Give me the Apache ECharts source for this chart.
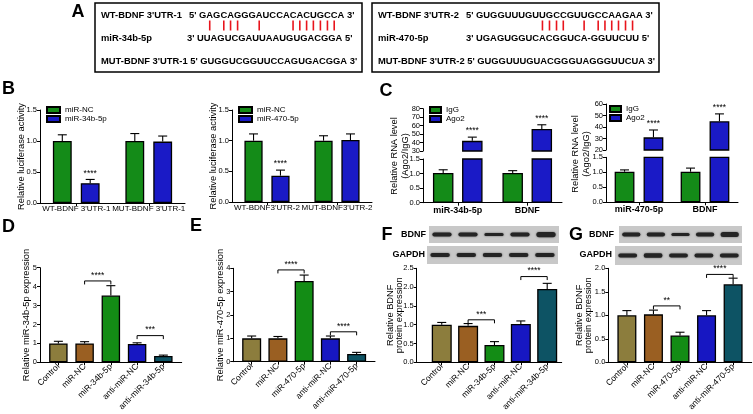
<!DOCTYPE html>
<html><head><meta charset="utf-8">
<script src="https://cdn.jsdelivr.net/npm/echarts@6/dist/echarts.min.js"></script>
<style>html,body{margin:0;padding:0;background:#fff}#c{width:753px;height:414px}</style>
</head><body><div id="c"></div>
<script>
// ================= DATA =================
// Panel A sequences
const A1_wtLabel = "WT-BDNF 3'UTR-1";
const A1_wtSeq = "5' GAGCAGGGAUCCACACUGCCA 3'";
const A1_miLabel = "miR-34b-5p";
const A1_miSeq = "3' UUAGUCGAUUAAUGUGACGGA 5'";
const A1_mut = "MUT-BDNF 3'UTR-1 5' GUGGUCGGUUCCAGUGACGGA 3'";
const A1_pairs = [1, 3, 4, 5, 8, 13, 14, 15, 16, 17, 18, 19];
const A2_wtLabel = "WT-BDNF 3'UTR-2";
const A2_wtSeq = "5' GUGGUUUGUUGCCGUUGCCAAGAA 3'";
const A2_miLabel = "miR-470-5p";
const A2_miSeq = "3' UGAGUGGUCACGGUCA-GGUUCUU 5'";
const A2_mut = "MUT-BDNF 3'UTR-2 5' GUGGUUUGUACGGGUAGGGUUCUA 3'";
const A2_pairs = [9, 10, 11, 12, 15, 17, 18, 19, 20, 21, 22];

// Panel B
const B_yTicks = [0, 0.5, 1.0, 1.5];
const B_title = "Relative luciferase activity";
const B1_cats = ["WT-BDNF 3'UTR-1", "MUT-BDNF 3'UTR-1"];
const B1_nc = [1.00, 1.00];
const B1_ncErr = [0.10, 0.12];
const B1_mir = [0.32, 0.99];
const B1_mirErr = [0.06, 0.09];
const B1_sig = ["****", ""];
const B2_cats = ["WT-BDNF3'UTR-2", "MUT-BDNF3'UTR-2"];
const B2_nc = [1.00, 1.00];
const B2_ncErr = [0.11, 0.08];
const B2_mir = [0.43, 1.01];
const B2_mirErr = [0.09, 0.10];
const B2_sig = ["****", ""];

// Panel C (broken axis)
const C_title = "Relative RNA level\n(Ago2/IgG)";
const C_lowTicks = [0, 0.5, 1.0, 1.5];
const C1_upTicks = [30, 40, 50, 60, 70, 80];
const C1_cats = ["miR-34b-5p", "BDNF"];
const C1_igg = [1.02, 1.02];
const C1_iggErr = [0.11, 0.08];
const C1_ago = [42, 56];
const C1_agoErr = [4.4, 5.0];
const C1_sig = ["****", "****"];
const C2_upTicks = [20, 30, 40, 50, 60];
const C2_cats = ["miR-470-5p", "BDNF"];
const C2_igg = [1.02, 1.02];
const C2_iggErr = [0.06, 0.12];
const C2_ago = [31, 45];
const C2_agoErr = [6.4, 6.4];
const C2_sig = ["****", "****"];

// Panels D-G
const D_title = "Relative miR-34b-5p expression";
const D_cats = ["Control", "miR-NC", "miR-34b-5p", "anti-miR-NC", "anti-miR-34b-5p"];
const D_yTicks = [0, 1, 2, 3, 4, 5];
const D_vals = [1.00, 1.00, 3.53, 0.97, 0.33];
const D_err = [0.11, 0.09, 0.52, 0.06, 0.05];
const D_brackets = [[1, 2, 4.30, "****"], [3, 4, 1.41, "***"]];

const E_title = "Relative miR-470-5p expression";
const E_cats = ["Control", "miR-NC", "miR-470-5p", "anti-miR-NC", "anti-miR-470-5p"];
const E_yTicks = [0, 1, 2, 3, 4];
const E_vals = [1.00, 1.00, 3.46, 1.00, 0.33];
const E_err = [0.10, 0.08, 0.25, 0.10, 0.07];
const E_brackets = [[1, 2, 3.93, "****"], [3, 4, 1.28, "****"]];

const FG_title = "Relative BDNF\nprotein expression";
const F_cats = ["Control", "miR-NC", "miR-34b-5p", "anti-miR-NC", "anti-miR-34b-5p"];
const F_yTicks = [0, 0.5, 1.0, 1.5, 2.0, 2.5];
const F_vals = [1.00, 0.97, 0.46, 1.02, 1.95];
const F_err = [0.06, 0.06, 0.09, 0.08, 0.15];
const F_brackets = [[1, 2, 1.13, "***"], [3, 4, 2.28, "****"]];
const F_bdnfBands = [1.0, 1.0, 0.75, 1.0, 1.25];
const F_gapdhBands = [1.0, 1.0, 1.0, 1.0, 1.0];

const G_cats = ["Control", "miR-NC", "miR-470-5p", "anti-miR-NC", "anti-miR-470-5p"];
const G_yTicks = [0, 0.5, 1.0, 1.5, 2.0];
const G_vals = [1.00, 1.02, 0.57, 1.00, 1.66];
const G_err = [0.10, 0.09, 0.07, 0.10, 0.13];
const G_brackets = [[1, 2, 1.20, "**"], [3, 4, 1.87, "****"]];
const G_bdnfBands = [1.0, 1.0, 0.75, 1.0, 1.2];
const G_gapdhBands = [1.0, 1.05, 1.0, 1.0, 1.0];

// ================= STYLE / HELPERS =================
const FONT = '"Liberation Sans", Arial, Helvetica, sans-serif';
const GREEN = '#148b18', BLUE = '#1a1ac6';
const GROUP_COLORS = ['#8c7d3d', '#9a5f22', '#138c15', '#1717c2', '#0d5364'];
const BORDER_W = 1.3;
function fnt(size, weight) { return (weight || 'normal') + ' ' + size + 'px ' + FONT; }

function yv(gi, ticks, dec, extra) {
  return Object.assign({
    type: 'value', gridIndex: gi, min: ticks[0], max: ticks[ticks.length - 1], interval: ticks[1] - ticks[0],
    axisLine: { show: true, onZero: false, lineStyle: { color: '#000', width: 1 } },
    axisTick: { show: true, length: 3, lineStyle: { color: '#000', width: 1 } },
    axisLabel: { fontSize: 7.5, color: '#000', margin: 3, fontFamily: FONT, formatter: v => v.toFixed(dec) },
    splitLine: { show: false }
  }, extra || {});
}
function xcat(gi, cats, show, labelStyle) {
  return {
    type: 'category', gridIndex: gi, data: cats,
    axisLine: { show: show, onZero: false, lineStyle: { color: '#000', width: 1 } },
    axisTick: { show: show, alignWithLabel: true, length: 3, lineStyle: { color: '#000' } },
    axisLabel: Object.assign({ show: show, interval: 0, color: '#000', fontFamily: FONT, margin: 3 }, labelStyle || {}),
    splitLine: { show: false }
  };
}
function xval(gi, cats, min, max) {
  const idx = cats.map((c, i) => i);
  return {
    type: 'value', gridIndex: gi, min: min, max: max,
    axisLine: { show: true, onZero: false, lineStyle: { color: '#000', width: 1 } },
    axisTick: { show: true, length: 3, customValues: idx, lineStyle: { color: '#000' } },
    axisLabel: { show: true, customValues: idx, rotate: 45, fontSize: 8.5, color: '#000', fontFamily: FONT, margin: 3,
      formatter: v => cats[Math.round(v)] },
    splitLine: { show: false }
  };
}
function hiddenAxis(gi, type, min, max) {
  return { type: type, gridIndex: gi, min: min, max: max, show: false, axisLine: { onZero: false }, splitLine: { show: false } };
}
function barSeries(gi, name, data, color, extra) {
  return Object.assign({
    type: 'bar', name: name, xAxisIndex: gi, yAxisIndex: gi, data: data, clip: true,
    itemStyle: { color: color, borderColor: '#000', borderWidth: BORDER_W }, silent: true
  }, extra || {});
}
function errBars(gi, vals, errs, side, barPct, gapPct, stars) {
  return {
    type: 'custom', xAxisIndex: gi, yAxisIndex: gi, z: 5, silent: true,
    data: vals.map((v, i) => [i, v, errs[i]]),
    renderItem(params, api) {
      const i = api.value(0), v = api.value(1), e = api.value(2);
      let dx = 0;
      if (side) { const band = api.size([1, 0])[0]; dx = side * band * barPct * (1 + gapPct) / 2; }
      const p0 = api.coord([i, v]), p1 = api.coord([i, v + e]);
      const x = p0[0] + dx;
      const ch = [
        { type: 'line', shape: { x1: x, y1: p0[1], x2: x, y2: p1[1] }, style: { stroke: '#000', lineWidth: 1.1 } },
        { type: 'line', shape: { x1: x - 4.5, y1: p1[1], x2: x + 4.5, y2: p1[1] }, style: { stroke: '#000', lineWidth: 1.1 } }
      ];
      const s = stars && stars[params.dataIndex];
      if (s) ch.push({ type: 'text', x: x, y: p1[1] - 1.5, style: { text: s, font: fnt(8.5), fill: '#000', textAlign: 'center', textVerticalAlign: 'bottom' } });
      return { type: 'group', children: ch };
    }
  };
}
function bracketSeries(gi, br) {
  return {
    type: 'custom', xAxisIndex: gi, yAxisIndex: gi, z: 5, silent: true,
    data: br.map(b => [b[0], b[1], b[2]]),
    renderItem(params, api) {
      const a = api.coord([api.value(0), api.value(2)]), b = api.coord([api.value(1), api.value(2)]);
      const leg = 3.5;
      return { type: 'group', children: [
        { type: 'polyline', shape: { points: [[a[0], a[1] + leg], [a[0], a[1]], [b[0], b[1]], [b[0], b[1] + leg]] }, style: { stroke: '#000', lineWidth: 1, fill: null } },
        { type: 'text', x: (a[0] + b[0]) / 2, y: a[1] - 1, style: { text: br[params.dataIndex][3], font: fnt(8.5), fill: '#000', textAlign: 'center', textVerticalAlign: 'bottom' } }
      ] };
    }
  };
}
function blotSeries(gi, bands) {
  return {
    type: 'custom', xAxisIndex: gi, yAxisIndex: gi, silent: true,
    data: bands.map((b, i) => [i, b]),
    renderItem(params, api) {
      const c = api.coord([api.value(0), 0.5]);
      const k = api.value(1);
      const w = api.size([0.74, 0], [api.value(0), 0.5])[0];
      const h = 4.2 * k;
      return { type: 'rect', shape: { x: c[0] - w / 2, y: c[1] - h / 2, width: w, height: h, r: h / 2 },
        style: { fill: '#242424', shadowBlur: 2, shadowColor: 'rgba(0,0,0,0.55)' } };
    }
  };
}
function colored(vals) { return vals.map((v, i) => ({ value: [i, v], itemStyle: { color: GROUP_COLORS[i] } })); }

// ================= LAYOUT =================
const grids = [
  { left: 40, top: 110, width: 145, height: 93 },          // 0 B1
  { left: 232, top: 110, width: 140, height: 92 },         // 1 B2
  { left: 423, top: 108.7, width: 139, height: 42.3 },     // 2 C1 upper
  { left: 423, top: 159, width: 139, height: 43.7 },       // 3 C1 lower
  { left: 606, top: 104, width: 132, height: 46 },         // 4 C2 upper
  { left: 606, top: 157.3, width: 132, height: 45 },       // 5 C2 lower
  { left: 40, top: 267.7, width: 141.7, height: 94.6 },    // 6 D
  { left: 233.3, top: 268.3, width: 141.7, height: 93.4 }, // 7 E
  { left: 416.7, top: 268.3, width: 145, height: 94 },     // 8 F
  { left: 608.3, top: 268.3, width: 143.4, height: 94 },   // 9 G
  { left: 429, top: 226, width: 130, height: 17 },         // 10 F BDNF blot
  { left: 427, top: 246, width: 131, height: 18 },         // 11 F GAPDH blot
  { left: 619, top: 226, width: 123, height: 17 },         // 12 G BDNF blot
  { left: 615, top: 246, width: 127, height: 19 }          // 13 G GAPDH blot
].map((g, i) => Object.assign({ containLabel: false }, g, i >= 10 ? { show: true, backgroundColor: '#c8c8c8', borderWidth: 0 } : {}));

const catLabB = { fontSize: 8, margin: 2 };
const catLabC = { fontSize: 9, fontWeight: 'bold', margin: 3 };

const xAxes = [
  xcat(0, B1_cats, true, catLabB),
  xcat(1, B2_cats, true, catLabB),
  xcat(2, C1_cats, false),
  xcat(3, C1_cats, true, catLabC),
  xcat(4, C2_cats, false),
  xcat(5, C2_cats, true, catLabC),
  xval(6, D_cats, -0.7, 4.7),
  xval(7, E_cats, -0.7, 4.7),
  xval(8, F_cats, -0.95, 4.55),
  xval(9, G_cats, -0.7, 4.7),
  hiddenAxis(10, 'value', -0.5, 4.5),
  hiddenAxis(11, 'value', -0.5, 4.5),
  hiddenAxis(12, 'value', -0.5, 4.5),
  hiddenAxis(13, 'value', -0.5, 4.5)
];
const yAxes = [
  yv(0, B_yTicks, 1),
  yv(1, B_yTicks, 1),
  yv(2, C1_upTicks, 0),
  yv(3, C_lowTicks, 1),
  yv(4, C2_upTicks, 0),
  yv(5, C_lowTicks, 1),
  yv(6, D_yTicks, 0),
  yv(7, E_yTicks, 0),
  yv(8, F_yTicks, 1),
  yv(9, G_yTicks, 1),
  hiddenAxis(10, 'value', 0, 1),
  hiddenAxis(11, 'value', 0, 1),
  hiddenAxis(12, 'value', 0, 1),
  hiddenAxis(13, 'value', 0, 1)
];

const BP = 0.26, BG = 0.48;   // panel B bar width / gap
const CP1 = 0.295, CG1 = 0.42, CP2 = 0.30, CG2 = 0.46;
const series = [
  // B1
  barSeries(0, 'miR-NC', B1_nc, GREEN, { barWidth: BP * 100 + '%', barGap: BG * 100 + '%' }),
  barSeries(0, 'miR-34b-5p', B1_mir, BLUE, { barWidth: BP * 100 + '%', barGap: BG * 100 + '%' }),
  errBars(0, B1_nc, B1_ncErr, -1, BP, BG),
  errBars(0, B1_mir, B1_mirErr, 1, BP, BG, B1_sig),
  // B2
  barSeries(1, 'miR-NC', B2_nc, GREEN, { barWidth: BP * 100 + '%', barGap: BG * 100 + '%' }),
  barSeries(1, 'miR-470-5p', B2_mir, BLUE, { barWidth: BP * 100 + '%', barGap: BG * 100 + '%' }),
  errBars(1, B2_nc, B2_ncErr, -1, BP, BG),
  errBars(1, B2_mir, B2_mirErr, 1, BP, BG, B2_sig),
  // C1 upper / lower
  barSeries(2, 'IgG', C1_igg, GREEN, { barWidth: CP1 * 100 + '%', barGap: CG1 * 100 + '%' }),
  barSeries(2, 'Ago2', C1_ago, BLUE, { barWidth: CP1 * 100 + '%', barGap: CG1 * 100 + '%' }),
  errBars(2, C1_ago, C1_agoErr, 1, CP1, CG1, C1_sig),
  barSeries(3, 'IgG', C1_igg, GREEN, { barWidth: CP1 * 100 + '%', barGap: CG1 * 100 + '%' }),
  barSeries(3, 'Ago2', C1_ago, BLUE, { barWidth: CP1 * 100 + '%', barGap: CG1 * 100 + '%' }),
  errBars(3, C1_igg, C1_iggErr, -1, CP1, CG1),
  // C2 upper / lower
  barSeries(4, 'IgG', C2_igg, GREEN, { barWidth: CP2 * 100 + '%', barGap: CG2 * 100 + '%' }),
  barSeries(4, 'Ago2', C2_ago, BLUE, { barWidth: CP2 * 100 + '%', barGap: CG2 * 100 + '%' }),
  errBars(4, C2_ago, C2_agoErr, 1, CP2, CG2, C2_sig),
  barSeries(5, 'IgG', C2_igg, GREEN, { barWidth: CP2 * 100 + '%', barGap: CG2 * 100 + '%' }),
  barSeries(5, 'Ago2', C2_ago, BLUE, { barWidth: CP2 * 100 + '%', barGap: CG2 * 100 + '%' }),
  errBars(5, C2_igg, C2_iggErr, -1, CP2, CG2),
  // D
  barSeries(6, 'D', colored(D_vals), null, { barWidth: 18.5 }),
  errBars(6, D_vals, D_err, 0),
  bracketSeries(6, D_brackets),
  // E
  barSeries(7, 'E', colored(E_vals), null, { barWidth: 19 }),
  errBars(7, E_vals, E_err, 0),
  bracketSeries(7, E_brackets),
  // F
  barSeries(8, 'F', colored(F_vals), null, { barWidth: 20 }),
  errBars(8, F_vals, F_err, 0),
  bracketSeries(8, F_brackets),
  // G
  barSeries(9, 'G', colored(G_vals), null, { barWidth: 19 }),
  errBars(9, G_vals, G_err, 0),
  bracketSeries(9, G_brackets),
  // blots
  blotSeries(10, F_bdnfBands),
  blotSeries(11, F_gapdhBands),
  blotSeries(12, G_bdnfBands),
  blotSeries(13, G_gapdhBands)
];

const legendBase = { orient: 'vertical', itemHeight: 6, itemGap: 1, padding: 0, icon: 'rect', selectedMode: false,
  textStyle: { fontSize: 8, fontFamily: FONT, color: '#000' } };
const legends = [
  Object.assign({}, legendBase, { data: ['miR-NC', 'miR-34b-5p'], left: 46, top: 106, itemWidth: 13 }),
  Object.assign({}, legendBase, { data: ['miR-NC', 'miR-470-5p'], left: 238, top: 106, itemWidth: 13 }),
  Object.assign({}, legendBase, { data: ['IgG', 'Ago2'], left: 429, top: 106, itemWidth: 11 }),
  Object.assign({}, legendBase, { data: ['IgG', 'Ago2'], left: 609, top: 105, itemWidth: 11 })
];

// ---------- graphic: panel A boxes, panel letters, axis titles ----------
const SEQ_FONT = fnt(9.4, 'bold');
const measCtx = document.createElement('canvas').getContext('2d');
measCtx.font = SEQ_FONT;
function pairLines(seqX, seq, pairs) {
  return pairs.map(idx => {
    const pre = seq.slice(0, 3 + idx);
    const x = seqX + measCtx.measureText(pre).width + measCtx.measureText(seq[3 + idx]).width / 2;
    return { type: 'line', shape: { x1: x, y1: 20.5, x2: x, y2: 30.5 }, style: { stroke: '#e8141c', lineWidth: 1.6 } };
  });
}
function txt(x, y, s, font, align, valign, extra) {
  return Object.assign({ type: 'text', x: x, y: y, style: { text: s, font: font, fill: '#000', textAlign: align || 'left', textVerticalAlign: valign || 'middle' } }, extra || {});
}
function vtitle(x, y, s, lh) {
  return { type: 'text', x: x, y: y, rotation: Math.PI / 2,
    style: { text: s, font: fnt(9.3), fill: '#000', textAlign: 'center', textVerticalAlign: 'middle', lineHeight: lh || 11 } };
}
const graphics = [
  { type: 'rect', shape: { x: 95, y: 3, width: 267, height: 69 }, style: { fill: 'none', stroke: '#000', lineWidth: 1.5 } },
  { type: 'rect', shape: { x: 372, y: 3, width: 287, height: 69 }, style: { fill: 'none', stroke: '#000', lineWidth: 1.5 } },
  txt(101, 15, A1_wtLabel, SEQ_FONT), txt(189, 15, A1_wtSeq, SEQ_FONT),
  txt(101, 38, A1_miLabel, SEQ_FONT), txt(187, 38, A1_miSeq, SEQ_FONT),
  txt(101, 61, A1_mut, SEQ_FONT),
  txt(378, 15, A2_wtLabel, SEQ_FONT), txt(466, 15, A2_wtSeq, SEQ_FONT),
  txt(378, 38, A2_miLabel, SEQ_FONT), txt(466, 38, A2_miSeq, SEQ_FONT),
  txt(378, 61, A2_mut, SEQ_FONT)
].concat(pairLines(189, A1_wtSeq, A1_pairs), pairLines(466, A2_wtSeq, A2_pairs), [
  txt(78, 12, 'A', fnt(18, 'bold'), 'center'),
  txt(8.5, 89, 'B', fnt(18, 'bold'), 'center'),
  txt(386, 91.5, 'C', fnt(18, 'bold'), 'center'),
  txt(8.5, 227, 'D', fnt(18, 'bold'), 'center'),
  txt(196, 226, 'E', fnt(18, 'bold'), 'center'),
  txt(387, 235, 'F', fnt(18, 'bold'), 'center'),
  txt(576, 235, 'G', fnt(18, 'bold'), 'center'),
  txt(426, 234.5, 'BDNF', fnt(9, 'bold'), 'right'),
  txt(425, 255, 'GAPDH', fnt(9, 'bold'), 'right'),
  txt(614, 234.5, 'BDNF', fnt(9, 'bold'), 'right'),
  txt(612, 255, 'GAPDH', fnt(9, 'bold'), 'right'),
  vtitle(21.5, 156.5, B_title),
  vtitle(213, 156, B_title),
  vtitle(400, 156, C_title, 11),
  vtitle(581, 154, C_title, 11),
  vtitle(26.5, 315, D_title),
  vtitle(220, 315, E_title),
  vtitle(395, 315.3, FG_title, 9),
  vtitle(584, 315.3, FG_title, 9)
]);

const chart = echarts.init(document.getElementById('c'), null, { renderer: 'canvas' });
chart.setOption({
  animation: false,
  backgroundColor: '#fff',
  textStyle: { fontFamily: FONT },
  grid: grids,
  xAxis: xAxes,
  yAxis: yAxes,
  legend: legends,
  series: series,
  graphic: { elements: graphics }
});
</script>
</body></html>
